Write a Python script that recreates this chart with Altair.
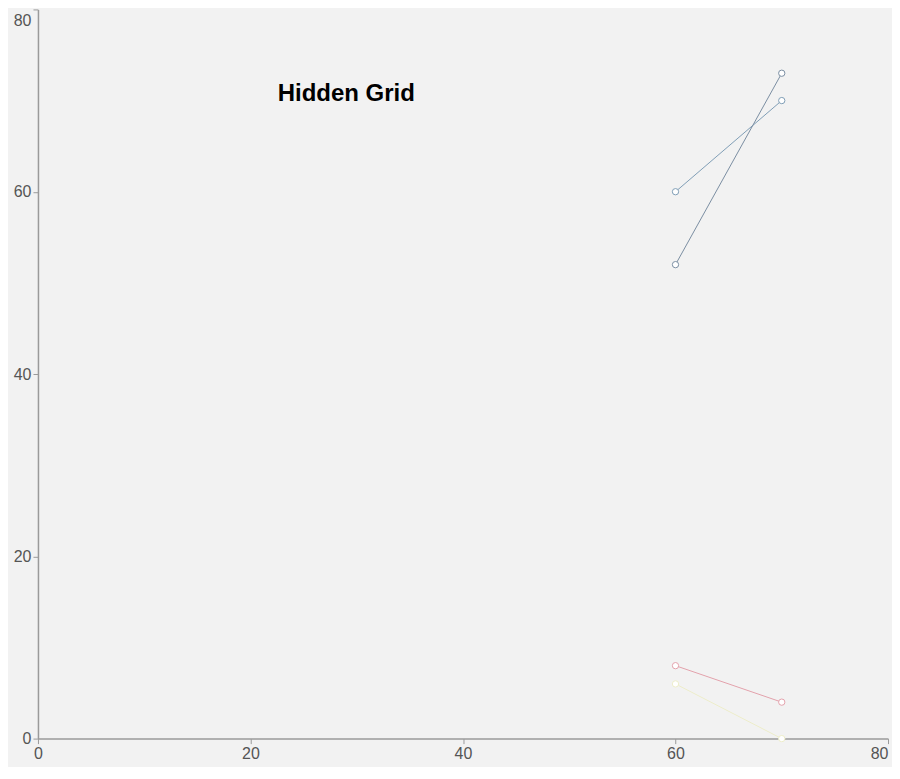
import altair as alt
import pandas as pd

# ---- data ----
series_names = ["A", "B", "C", "D"]
x_points = [60, 70]
series_a = [60, 70]
series_b = [52, 73]
series_c = [8, 4]
series_d = [6, 0]
series_colors = ["#809eb6", "#7a8ea2", "#e3a2ac", "#ededca"]
axis_ticks = [0, 20, 40, 60, 80]

rows = []
for name, vals in zip(series_names, [series_a, series_b, series_c, series_d]):
    for xv, yv in zip(x_points, vals):
        rows.append({"series": name, "x": xv, "y": yv})
df = pd.DataFrame(rows)

color_scale = alt.Scale(domain=series_names, range=series_colors)
FONT = "Liberation Sans"

x_enc = alt.X(
    "x:Q",
    scale=alt.Scale(domain=[0, 80], nice=False),
    axis=alt.Axis(
        values=axis_ticks,
        title=None,
        grid=False,
        labelAlign={"condition": {"test": "datum.value == 80", "value": "right"}, "value": "center"},
    ),
)
y_enc = alt.Y(
    "y:Q",
    scale=alt.Scale(domain=[0, 80], nice=False),
    axis=alt.Axis(
        values=axis_ticks,
        title=None,
        grid=False,
        labelBaseline={"condition": {"test": "datum.value == 80", "value": "top"}, "value": "middle"},
        labelOffset={"condition": {"test": "datum.value == 80", "value": 3}, "value": 0},
    ),
)

base = alt.Chart(df).encode(
    x=x_enc,
    y=y_enc,
    color=alt.Color("series:N", scale=color_scale, legend=None),
    detail="series:N",
)

lines = base.mark_line(strokeWidth=1)
points = base.mark_point(shape="circle", filled=False, fill="white", fillOpacity=1, size=40, strokeWidth=1, opacity=1)

chart = (
    alt.layer(lines, points)
    .properties(
        width=851,
        height=730,
        background="#f2f2f2",
        padding={"left": 5, "top": 0, "right": 3, "bottom": 5},
        title=alt.TitleParams(
            "Hidden Grid",
            anchor="start",
            frame="group",
            orient="top",
            offset=0,
            baseline="alphabetic",
            dx=240,
            dy=116,
            fontSize=24,
            fontWeight="bold",
            font=FONT,
            color="#000000",
        ),
    )
    .configure_view(stroke=None)
    .configure_axis(
        domainColor="#9a9a9a",
        domainWidth=1.5,
        tickColor="#9a9a9a",
        labelColor="#555555",
        labelFontSize=16,
        labelFont=FONT,
        tickSize=5,
        labelPadding=2,
    )
)

chart.save("out.html", embed_options={"renderer": "svg", "actions": False})
